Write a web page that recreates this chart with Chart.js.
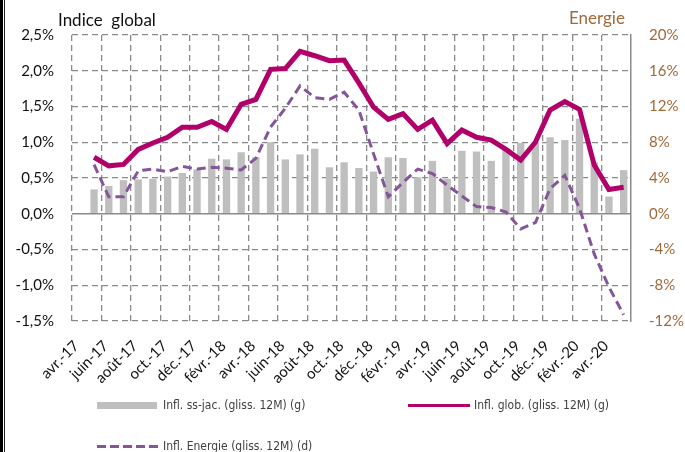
<!DOCTYPE html>
<html>
<head>
<meta charset="utf-8">
<title>Inflation</title>
<script src="https://cdn.jsdelivr.net/npm/chart.js@4.4.1/dist/chart.umd.min.js"></script>
<style>
  body { margin: 0; background: #fff; }
  #box { position: relative; width: 685px; height: 452px; overflow: hidden; }
  .frame1 { position: absolute; left: 0; top: 0; width: 2.5px; height: 452px; background: #000; }
  .frame2 { position: absolute; left: 4px; top: 0; width: 1px; height: 452px; background: #222; }
  .ttl { position: absolute; font-family: Lato, sans-serif; font-size: 17px; line-height: 19px; }
  .leg { position: absolute; font-family: "Liberation Sans Narrow", "DejaVu Sans Condensed", sans-serif; font-size: 12px; color: #404040; line-height: 14px; white-space: nowrap; }
  .mk { position: absolute; }
</style>
</head>
<body>
<div id="box">
  <canvas id="chart"></canvas>
  <div class="frame1"></div>
  <div class="frame2"></div>
  <div class="ttl" style="left:58px; top:10px; color:#111;">Indice&nbsp; global</div>
  <div class="ttl" style="left:569px; top:8px; color:#a0693a;">Energie</div>

  <div class="mk" style="left:97px; top:402px; width:60px; height:7px; background:#bfbfbf;"></div>
  <div class="leg" style="left:163px; top:398px;">Infl. ss-jac. (gliss. 12M) (g)</div>
  <div class="mk" style="left:408px; top:404px; width:62px; height:3px; background:#b1006a;"></div>
  <div class="leg" style="left:474px; top:398px;">Infl. glob. (gliss. 12M) (g)</div>
  <div class="mk" style="left:97px; top:445px; width:62px; height:3px; background:repeating-linear-gradient(to right, #85559a 0 9px, transparent 9px 13px);"></div>
  <div class="leg" style="left:163px; top:439px;">Infl. Energie (gliss. 12M) (d)</div>
</div>
<script>
  const months = ['avr.-17', 'mai-17', 'juin-17', 'juil.-17', 'août-17', 'sept.-17', 'oct.-17', 'nov.-17', 'déc.-17',
    'janv.-18', 'févr.-18', 'mars-18', 'avr.-18', 'mai-18', 'juin-18', 'juil.-18', 'août-18', 'sept.-18', 'oct.-18', 'nov.-18', 'déc.-18',
    'janv.-19', 'févr.-19', 'mars-19', 'avr.-19', 'mai-19', 'juin-19', 'juil.-19', 'août-19', 'sept.-19', 'oct.-19', 'nov.-19', 'déc.-19',
    'janv.-20', 'févr.-20', 'mars-20', 'avr.-20', 'mai-20'];

  // inflation sous-jacente, % (axe gauche)
  const coreInfl = [null, 0.34, 0.39, 0.47, 0.48, 0.49, 0.52, 0.57, 0.62, 0.77, 0.76, 0.86, 0.79, 1.00, 0.76, 0.83, 0.91,
    0.65, 0.72, 0.64, 0.59, 0.79, 0.78, 0.51, 0.74, 0.49, 0.88, 0.87, 0.74, 0.92, 0.99, 1.00, 1.07, 1.03, 1.33, 0.72, 0.24, 0.61];

  // inflation globale, % (axe gauche)
  const globalInfl = [null, 0.79, 0.67, 0.69, 0.90, 0.99, 1.07, 1.21, 1.21, 1.29, 1.18, 1.53, 1.60, 2.02, 2.03, 2.27, 2.21,
    2.14, 2.15, 1.83, 1.49, 1.32, 1.40, 1.18, 1.31, 0.98, 1.17, 1.07, 1.03, 0.90, 0.75, 1.00, 1.45, 1.57, 1.46, 0.68, 0.34, 0.37];

  // inflation énergie, % (axe droit)
  const energyInfl = [null, 5.5, 1.9, 1.9, 4.8, 5.0, 4.7, 5.3, 5.0, 5.2, 5.1, 4.9, 6.2, 9.7, 11.8, 14.3, 13.0,
    12.8, 13.6, 11.6, 6.7, 1.9, 3.5, 5.0, 4.5, 3.2, 2.0, 0.8, 0.7, 0.2, -1.7, -1.0, 2.8, 4.3, 0.6, -4.5, -8.2, -11.3];

  const GRID = '#8a8a8a';
  const DASH = [6, 4];

  Chart.defaults.font.family = 'Lato, sans-serif';

  new Chart('chart', {
    type: 'bar',
    data: {
      labels: months,
      datasets: [
        {
          type: 'line',
          label: 'Infl. glob. (gliss. 12M) (g)',
          data: globalInfl,
          borderColor: '#b1006a',
          borderWidth: 5,
          pointRadius: 0,
          tension: 0,
          yAxisID: 'y',
          order: 1
        },
        {
          type: 'line',
          label: 'Infl. Energie (gliss. 12M) (d)',
          data: energyInfl,
          borderColor: '#85559a',
          borderWidth: 3,
          borderDash: [9, 5],
          pointRadius: 0,
          tension: 0,
          yAxisID: 'y2',
          order: 2
        },
        {
          label: 'Infl. ss-jac. (gliss. 12M) (g)',
          data: coreInfl,
          backgroundColor: '#bfbfbf',
          categoryPercentage: 1,
          barPercentage: 0.5,
          yAxisID: 'y',
          order: 3
        }
      ]
    },
    options: {
      responsive: true,
      maintainAspectRatio: false,
      animation: false,
      layout: { padding: { top: 35, left: 0, right: 0, bottom: 61 } },
      plugins: {
        legend: { display: false },
        tooltip: { enabled: false }
      },
      scales: {
        x: {
          offset: true,
          grid: {
            offset: true,
            drawTicks: false,
            lineWidth: 1.3,
            color: c => (c.index !== undefined && c.index % 2 === 0) ? GRID : 'rgba(0,0,0,0)'
          },
          border: { display: false, dash: DASH },
          ticks: {
            autoSkip: false,
            maxRotation: 45,
            minRotation: 45,
            padding: 16,
            labelOffset: -3,
            color: '#111',
            font: { size: 15 },
            callback: (v, i) => i % 2 === 0 ? months[i] : ''
          },
          afterFit: s => { s.height = 70; }
        },
        y: {
          position: 'left',
          min: -1.5,
          max: 2.5,
          grid: {
            drawTicks: false,
            lineWidth: c => c.tick && c.tick.value === 0 ? 1.6 : 1.3,
            color: GRID
          },
          border: { display: false, dash: c => c.tick && c.tick.value === 0 ? [] : DASH },
          ticks: {
            stepSize: 0.5,
            padding: 18,
            color: '#111',
            font: { size: 15 },
            callback: v => v.toFixed(1).replace('.', ',') + '%'
          },
          afterFit: s => { s.width = 72; }
        },
        y2: {
          position: 'right',
          min: -12,
          max: 20,
          grid: { display: false, drawTicks: false },
          border: { display: true, color: '#8a8a8a', width: 1.5 },
          ticks: {
            stepSize: 4,
            padding: 18,
            color: '#a0693a',
            font: { size: 15 },
            callback: v => v + '%'
          },
          afterFit: s => { s.width = 54; }
        }
      }
    }
  });
</script>
</body>
</html>
